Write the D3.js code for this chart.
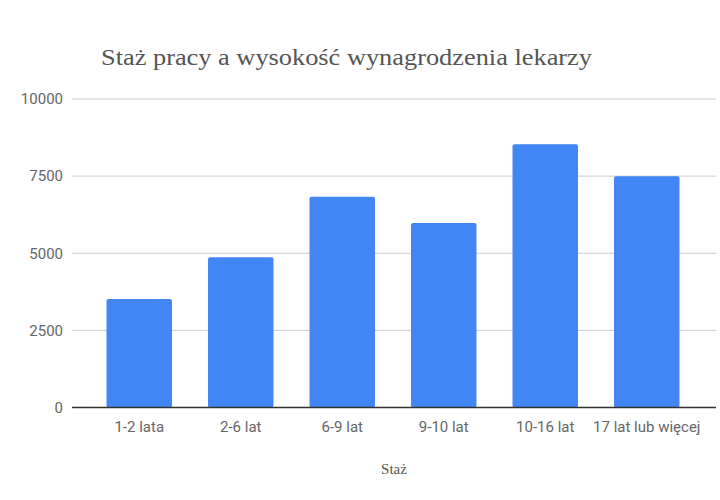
<!DOCTYPE html>
<html>
<head>
<meta charset="utf-8">
<script src="https://cdn.jsdelivr.net/npm/d3@7"></script>
<style>
html,body{margin:0;padding:0;background:#fff;}
svg{display:block;}
</style>
</head>
<body>
<svg id="chart" width="720" height="500"></svg>
<script>
const categories = ["1-2 lata", "2-6 lat", "6-9 lat", "9-10 lat", "10-16 lat", "17 lat lub więcej"];
const values = [3520, 4870, 6830, 5980, 8530, 7500];
const yTicks = [0, 2500, 5000, 7500, 10000];
const title = "Staż pracy a wysokość wynagrodzenia lekarzy";
const xTitle = "Staż";

const svg = d3.select("#chart");
const plotLeft = 72, plotRight = 716;

const x = d3.scaleBand()
  .domain(categories)
  .range([88.5, 697.5])
  .paddingInner(0.355)
  .paddingOuter(0.1775);

const y = d3.scaleLinear().domain([0, 10000]).range([407.5, 99]);

// gridlines
svg.append("g").selectAll("line")
  .data(yTicks.filter(d => d !== 0))
  .join("line")
  .attr("x1", plotLeft).attr("x2", plotRight)
  .attr("y1", d => y(d)).attr("y2", d => y(d))
  .attr("stroke", "#cccccc").attr("stroke-width", 1);

// y labels
svg.append("g").selectAll("text")
  .data(yTicks)
  .join("text")
  .attr("x", 63).attr("y", d => y(d))
  .attr("dy", "0.35em")
  .attr("text-anchor", "end")
  .attr("font-family", "Roboto, sans-serif")
  .attr("font-size", 15)
  .attr("fill", "#666")
  .text(d => d);

// bars
svg.append("g").selectAll("rect")
  .data(categories.map((c, i) => ({c, v: values[i]})))
  .join("rect")
  .attr("x", d => x(d.c))
  .attr("width", x.bandwidth())
  .attr("y", d => y(d.v))
  .attr("height", d => y(0) - y(d.v))
  .attr("rx", 2)
  .attr("fill", "#4285f4");

// baseline
svg.append("line")
  .attr("x1", plotLeft).attr("x2", plotRight)
  .attr("y1", y(0)).attr("y2", y(0))
  .attr("stroke", "#333").attr("stroke-width", 1.5);

// x labels
svg.append("g").selectAll("text")
  .data(categories)
  .join("text")
  .attr("x", d => x(d) + x.bandwidth() / 2)
  .attr("y", 432)
  .attr("text-anchor", "middle")
  .attr("font-family", "Roboto, sans-serif")
  .attr("font-size", 15)
  .attr("fill", "#666")
  .text(d => d);

// title
svg.append("text")
  .attr("x", 101).attr("y", 65)
  .attr("font-family", "'Liberation Serif', 'Times New Roman', serif")
  .attr("font-size", 24)
  .attr("fill", "#555")
  .attr("textLength", 491)
  .attr("lengthAdjust", "spacingAndGlyphs")
  .text(title);

// x axis title
svg.append("text")
  .attr("x", 394).attr("y", 474)
  .attr("text-anchor", "middle")
  .attr("font-family", "'Liberation Serif', 'Times New Roman', serif")
  .attr("font-size", 15)
  .attr("fill", "#555")
  .text(xTitle);
</script>
</body>
</html>
